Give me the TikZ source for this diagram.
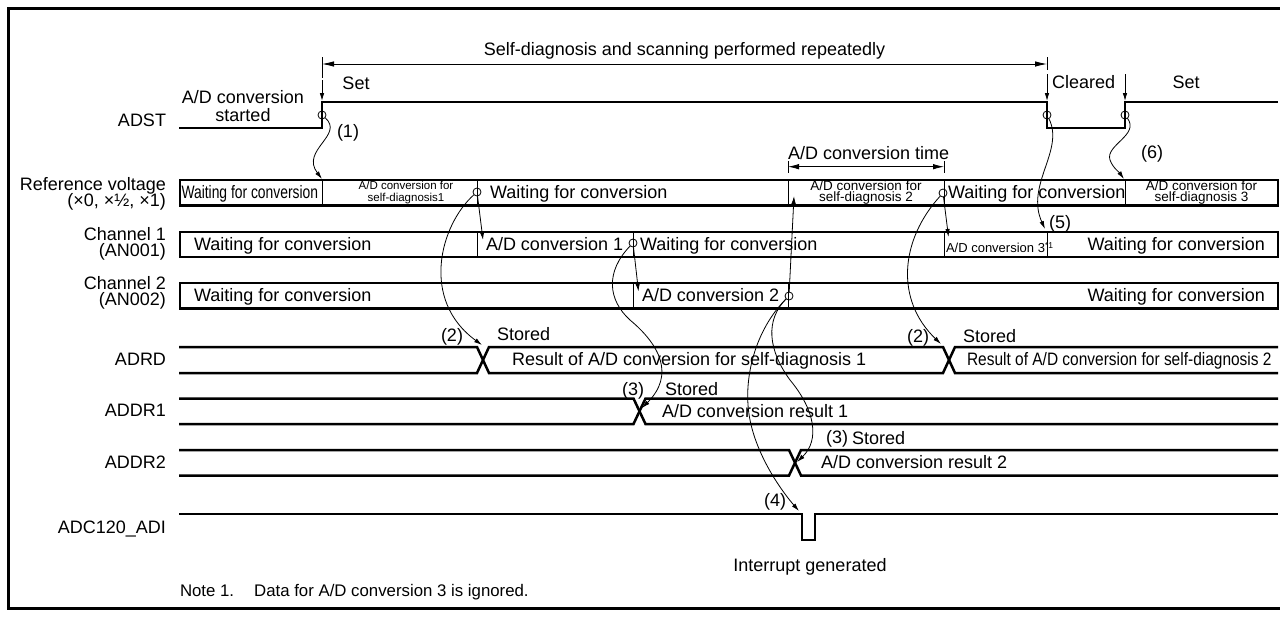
\documentclass[tikz,border=0pt]{standalone}
\usepackage{fontspec}
\usepackage{graphicx}
\setmainfont{Liberation Sans}
\usetikzlibrary{arrows.meta}
\begin{document}
\setlength{\lineskiplimit}{-20pt}
\begin{tikzpicture}[x=1pt,y=-1pt,
  every node/.style={inner sep=0pt, outer sep=0pt},
  lbl/.style={font=\fontsize{18}{18}\selectfont, text height=12.9pt, text depth=0pt},
  sml/.style={font=\fontsize{13.5}{11.8}\selectfont, align=center},
  wave/.style={line width=2.5pt, line join=miter},
  box/.style={line width=2.5pt},
  div/.style={line width=0.9pt},
  ring/.style={draw, circle, minimum size=8pt, line width=0.8pt},
  conn/.style={line width=0.8pt, -{Latex[length=8pt,width=4.5pt]}},
  dim/.style={line width=0.8pt, {Latex[length=12pt,width=5.5pt]}-{Latex[length=12pt,width=5.5pt]}},
  tick/.style={line width=0.8pt},
]
\useasboundingbox (0,0) rectangle (1280,616);
\draw[line width=3pt] (8,8) rectangle (1290,608);

% ---------- signal names ----------
\node[lbl, anchor=east] (nADST) at (166,120.5) {ADST};
\node[anchor=east, align=right, font=\fontsize{18}{15.5}\selectfont] (nREF) at (166,194) {Reference voltage\\(×0, ×½, ×1)};
\node[anchor=east, align=right, font=\fontsize{18}{16.5}\selectfont] (nCH1) at (166,244) {Channel 1\\(AN001)};
\node[anchor=east, align=right, font=\fontsize{18}{16.5}\selectfont] (nCH2) at (166,293) {Channel 2\\(AN002)};
\node[lbl, anchor=east] (nADRD) at (166,359.5) {ADRD};
\node[lbl, anchor=east] (nADDR1) at (166,410.5) {ADDR1};
\node[lbl, anchor=east] (nADDR2) at (166,462.5) {ADDR2};
\node[lbl, anchor=east] (nADI) at (166,527) {ADC120\_ADI};

% ---------- ADST ----------
\draw[wave] (179,128) -- (322,128) -- (322,102) -- (1047,102) -- (1047,128) -- (1125,128) -- (1125,102) -- (1278,102);
\node[align=center, font=\fontsize{18}{18}\selectfont] (started) at (243,106) {A/D conversion\\started};
\node[lbl] (set1) at (356,83) {Set};
\node[lbl, anchor=west] (clr) at (1052,82) {Cleared};
\node[lbl] (set2) at (1186,82) {Set};

% dimension: self-diagnosis
\coordinate (dL) at (322,64);
\coordinate (dR) at (1047,64);
\draw[dim] (dL) -- (dR);
\draw[tick] (322,57) -- (322,78);
\draw[tick] (1047,57) -- (1047,70);
\node[lbl] (selfdiag) at (684.5,49) {Self-diagnosis and scanning performed repeatedly};
\coordinate (s1a) at (322,80);  \coordinate (s1b) at (322,101);
\coordinate (s2a) at (1047,74); \coordinate (s2b) at (1047,101);
\coordinate (s3a) at (1125,74); \coordinate (s3b) at (1125,101);
\draw[conn] (s1a) -- (s1b);
\draw[conn] (s2a) -- (s2b);
\draw[conn] (s3a) -- (s3b);

% ---------- reference voltage ----------
\draw[box] (180,180) rectangle (1278,205.5);
\foreach \x in {322,477,788,944,1125} \draw[div] (\x,180) -- (\x,205.5);
\node[lbl, anchor=west] (rw1) at (181.5,192.5) {\scalebox{0.77}[1]{Waiting for conversion}};
\node[align=center, font=\fontsize{11.5}{11.5}\selectfont] (rs1) at (406,192.5) {A/D conversion for\\self-diagnosis1};
\node[lbl, anchor=west] (rw2) at (490,192) {Waiting for conversion};
\node[sml] (rs2) at (866,192.5) {A/D conversion for\\self-diagnosis 2};
\node[lbl, anchor=west] (rw3) at (948,192) {Waiting for conversion};
\node[sml] (rs3) at (1201.5,192.5) {A/D conversion for\\self-diagnosis 3};

% conversion time dimension
\coordinate (tL) at (788,166.7);
\coordinate (tR) at (944,166.7);
\draw[line width=0.8pt, {Latex[length=11pt,width=5.5pt]}-{Latex[length=11pt,width=5.5pt]}] (tL) -- (tR);
\draw[tick] (788,161) -- (788,173);
\draw[tick] (944,161) -- (944,173);
\node[lbl, anchor=west] (ctime) at (788,153) {A/D conversion time};

% ---------- channel 1 ----------
\draw[box] (180,232) rectangle (1278,257);
\foreach \x in {477,633,944,1047} \draw[div] (\x,232) -- (\x,257);
\node[lbl, anchor=west] (c1w1) at (194,244) {Waiting for conversion};
\node[lbl, anchor=west] (c1a1) at (486,244) {A/D conversion 1};
\node[lbl, anchor=west] (c1w2) at (640,244) {Waiting for conversion};
\node[anchor=west, font=\fontsize{13}{13}\selectfont, text height=9.3pt, text depth=0pt] (c1a3) at (946,248) {A/D conversion 3\raisebox{4.5pt}{\fontsize{8.5}{8.5}\selectfont *1}};
\node[lbl, anchor=east] (c1w3) at (1265,244) {Waiting for conversion};

% ---------- channel 2 ----------
\draw[box] (180,283) rectangle (1278,308.3);
\foreach \x in {633,788} \draw[div] (\x,283) -- (\x,308.3);
\node[lbl, anchor=west] (c2w1) at (194,295) {Waiting for conversion};
\node[lbl, anchor=west] (c2a2) at (642,295) {A/D conversion 2};
\node[lbl, anchor=east] (c2w2) at (1265,295) {Waiting for conversion};

% ---------- ADRD ----------
\draw[wave] (179,347) -- (477,347) -- (489,373) -- (943,373) -- (955,347) -- (1278,347);
\draw[wave] (179,373) -- (477,373) -- (489,347) -- (943,347) -- (955,373) -- (1278,373);
\node[lbl] (p2a) at (452,335) {(2)};
\node[lbl, anchor=west] (st2a) at (497,334) {Stored};
\node[lbl, anchor=west] (res1) at (512,359.5) {Result of A/D conversion for self-diagnosis 1};
\node[lbl] (p2b) at (918,336) {(2)};
\node[lbl, anchor=west] (st2b) at (963,336) {Stored};
\node[lbl, anchor=west] (res2) at (967,359.5) {\scalebox{0.86}[1]{Result of A/D conversion for self-diagnosis 2}};

% ---------- ADDR1 ----------
\draw[wave] (179,398.5) -- (633.5,398.5) -- (645.5,424) -- (1278,424);
\draw[wave] (179,424) -- (633.5,424) -- (645.5,398.5) -- (1278,398.5);
\node[lbl] (p3a) at (633,389) {(3)};
\node[lbl, anchor=west] (st3a) at (665,389) {Stored};
\node[lbl, anchor=west] (ar1) at (662,411) {A/D conversion result 1};

% ---------- ADDR2 ----------
\draw[wave] (179,450) -- (789,450) -- (801,475.5) -- (1278,475.5);
\draw[wave] (179,475.5) -- (789,475.5) -- (801,450) -- (1278,450);
\node[lbl] (p3b) at (837,437) {(3)};
\node[lbl, anchor=west] (st3b) at (852,438) {Stored};
\node[lbl, anchor=west] (ar2) at (821,462.5) {A/D conversion result 2};

% ---------- ADC120_ADI ----------
\draw[wave] (179,514) -- (802,514) -- (802,540) -- (815,540) -- (815,514) -- (1278,514);
\node[lbl] (p4) at (775,500) {(4)};
\node[lbl] (intr) at (810,565) {Interrupt generated};

% ---------- event circles ----------
\node[ring] (c1) at (322,115) {};
\node[ring] (c5) at (1047,115) {};
\node[ring] (c6) at (1125,115) {};
\node[ring] (r1) at (477,192) {};
\node[ring] (r2) at (943,193) {};
\node[ring] (h1) at (633,243) {};
\node[ring] (h2) at (789,296) {};

% ---------- targets ----------
\coordinate (t1) at (322,179);
\coordinate (a1) at (483,240);
\coordinate (t2a) at (482,345);
\coordinate (a2) at (638.5,291.5);
\coordinate (t3a) at (642,408);
\coordinate (a3) at (794,196);
\coordinate (t3b) at (797,462);
\coordinate (t4) at (799,511);
\coordinate (a4) at (948.5,237);
\coordinate (t2b) at (941,344);
\coordinate (t5) at (1045,229);
\coordinate (t6) at (1124,179);

% ---------- connectors ----------
\node[lbl] (p1) at (348,131) {(1)};
\draw[conn] (c1) .. controls (345,135) and (300,150) .. (t1);
\draw[conn] (r1) -- (a1);
\draw[conn] (r1) .. controls (440,225) and (420,300) .. (t2a);
\draw[conn] (h1) -- (a2);
\draw[conn] (h1) .. controls (605,272) and (608,300) .. (630,320) .. controls (660,345) and (675,375) .. (t3a);
\draw[conn] (h2) -- (a3);
\draw[conn] (h2) .. controls (765,320) and (768,350) .. (790,380) .. controls (815,410) and (820,440) .. (t3b);
\draw[conn] (h2) .. controls (755,330) and (742,380) .. (750,420) .. controls (758,460) and (785,495) .. (t4);
\draw[conn] (r2) -- (a4);
\draw[conn] (r2) .. controls (900,240) and (895,300) .. (t2b);
\node[lbl] (p5) at (1060,222) {(5)};
\draw[conn] (c5) .. controls (1065,150) and (1025,185) .. (t5);
\node[lbl] (p6) at (1152,152) {(6)};
\draw[conn] (c6) .. controls (1140,135) and (1105,145) .. (1110,160) .. controls (1113,168) and (1119,172) .. (t6);

% ---------- note ----------
\node[anchor=west, font=\fontsize{16.8}{16.8}\selectfont, text height=12pt, text depth=0pt] (note) at (180,590) {Note 1.\hspace{20pt}Data for A/D conversion 3 is ignored.};
\end{tikzpicture}
\end{document}
